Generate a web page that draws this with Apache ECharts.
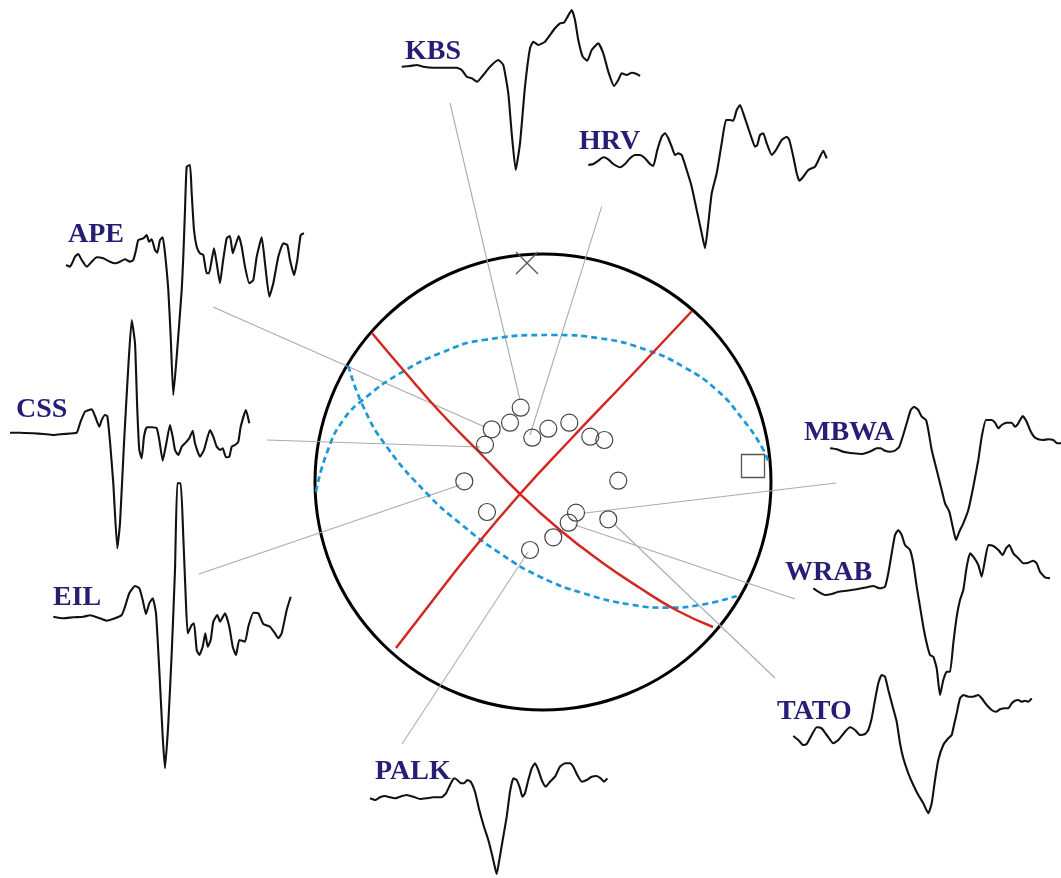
<!DOCTYPE html>
<html>
<head>
<meta charset="utf-8">
<script src="https://cdn.jsdelivr.net/npm/echarts@6/dist/echarts.min.js"></script>
<style>html,body{margin:0;padding:0;background:#fff}#c{width:1061px;height:878px}</style>
</head>
<body>
<div id="c"></div>
<script>
// ---- station labels [name, x, y] ----
const stationLabels = [
  ['KBS', 405, 52], ['HRV', 579, 142], ['APE', 68, 235], ['CSS', 16, 410],
  ['EIL', 53, 598], ['MBWA', 804, 433], ['WRAB', 785, 573], ['TATO', 777, 712], ['PALK', 375, 772]
];

// ---- waveform traces (x, y) ----
const kbsTrace = [[401.7,66.7],[410,66],[416.7,65],[423.3,66.7],[433.3,67.7],[443.3,67.7],[456.7,67.7],[461.7,70],[466.7,76.7],[471.7,78.3],[477.3,81.7],[483.3,75],[490,66.7],[498.3,60],[503.3,65],[508.3,93.3],[511.7,133.3],[515.7,170],[520,143.3],[525,86.7],[530,48.3],[533.3,41.7],[538.3,45],[545,41.7],[550,35],[555,28.3],[560,23.3],[564,22.7],[566.7,18.3],[571.7,10],[575,20],[578.3,40],[582.7,56.7],[587.3,60.7],[591.7,50],[598.3,43.3],[603.3,53.3],[608.3,71.7],[614,86],[618.3,80],[621.7,73.3],[626.7,75],[631.7,72.7],[636.7,74],[640,76]];
const hrvTrace = [[588.3,165],[593.3,164],[598.3,160.7],[603.3,157.3],[608.3,159.3],[613.3,164],[620,167.3],[625,164],[630,158.3],[635,155],[640,155],[645,158.3],[650,164],[653.3,166],[657.3,150],[661.7,136.7],[665,133.3],[668.3,138.3],[671.7,146.7],[675,155],[678.3,153.3],[681.7,155],[686.7,170],[691.7,186.7],[696.7,210],[701.7,233.3],[705,248.3],[708.3,223.3],[711.7,193.3],[716.7,173.3],[721.7,143.3],[726,120],[730,120],[733.3,120.7],[736.7,110],[740,105],[743.3,113.3],[748.3,128.3],[751.7,138.3],[755,146.7],[757.3,145],[760,135],[763.3,133.3],[766.7,143.3],[771.7,155],[776,150],[781.7,140],[786.7,136.7],[789.3,140],[793.3,156.7],[796.7,173.3],[799.3,180.7],[803.3,176.7],[808.3,170],[815,166.7],[820,156.7],[823.3,150.7],[826.7,158.3]];
const apeTrace = [[66,265],[70,266.7],[75,256.7],[78.3,254],[81.7,260],[86.7,266.7],[91.7,261.7],[96.7,257.3],[103.3,258.3],[110,261.7],[115,263.3],[120,261.7],[125,259.3],[130,261.7],[133.3,260],[136,250],[138.3,240],[143.3,238.3],[146.7,235],[149,241.7],[151.7,239.3],[155,250],[157.3,252.7],[160,240],[162.7,237.3],[165,253.3],[168.3,290],[170.7,336.7],[173.3,395],[176.7,356.7],[181.7,290],[183.3,256.7],[185,210],[186.7,166.7],[190,165],[191.7,193.3],[194,230],[196.7,246.7],[200,253.3],[203.3,255],[206.7,273.3],[209,273.3],[211.7,260],[214,248.3],[216.7,263.3],[220,283.3],[222.7,263.3],[226.7,238.3],[230,236],[232.7,253.3],[235,246.7],[238.7,236],[241.7,246.7],[245,266.7],[249.3,283.3],[253.3,280],[256.7,256.7],[261.7,237.3],[265,263.3],[269.3,296.7],[273.3,283.3],[278.3,256.7],[283.3,243.3],[287.3,245],[290,260],[294,275],[297.3,260],[300.7,235],[304,233.3]];
const cssTrace = [[10,432.7],[20,432.7],[33.3,433.3],[43.3,434],[53.3,435],[63.3,434],[76.7,432.7],[80,423.3],[85,411.7],[91.7,409.3],[95,416],[99.3,426.7],[101.7,420],[105,415],[107.3,416],[110,441.7],[113.3,483.3],[117.3,548.3],[120,523.3],[124,443.3],[128.3,366.7],[131.7,320],[135,343.3],[137.3,410],[139.3,450],[141.7,458.3],[144,436.7],[146.7,427.3],[151.7,427.3],[156.7,428.3],[159.3,440],[162.7,460.7],[166,445],[170,425],[172.7,436.7],[175,450],[178.3,455],[181.7,446.7],[185,443.3],[189.3,438.3],[192.7,430.7],[195,443.3],[200,456.7],[204,450],[210,430],[213.3,436.7],[216.7,446.7],[220,450],[222.7,448.3],[226,457.3],[229.3,456.7],[231.7,446.7],[235,445],[238.3,441.7],[240.7,426.7],[246,410],[249.3,423.3]];
const eilTrace = [[53.3,616.7],[63.3,618.3],[73.3,617.3],[83.3,616.7],[90,615.3],[98.3,617.7],[106.7,620.7],[115,618.3],[121.7,615],[125,606.7],[129.3,593.3],[135,586],[139.3,588.3],[142.7,600],[146,614],[149.3,603.3],[152.7,598.3],[156,613.3],[159.3,670],[162.7,736.7],[165,768.3],[168.3,723.3],[171.7,653.3],[175,570],[177.3,483.3],[180.7,483.3],[183.3,536.7],[185.7,596.7],[187.7,633.3],[191.7,625],[194,623.3],[196.7,650],[199.3,655],[202.7,646.7],[205.3,633.3],[207.7,646.7],[210.7,640],[213.3,621.7],[217.3,615],[220,621.7],[225,613.3],[229.3,626.7],[232.7,646.7],[236,655],[239.3,640],[245,641.7],[248.3,626.7],[253.3,612.7],[258.3,613.3],[263.3,624],[270,626.7],[275,633.3],[278.3,638.3],[281.7,633.3],[286.7,610],[290.7,596.7]];
const mbwaTrace = [[830,448.3],[836.7,449.3],[843.3,451.7],[853.3,453.3],[861.7,454],[866.7,452.7],[871.7,450.7],[876.7,448.3],[880.7,448.3],[885,450.7],[890,451.7],[895,450.7],[899.3,446.7],[902.7,436.7],[906.7,423.3],[910.7,410],[914,406.7],[918.3,410],[921.7,416.7],[926,420],[928.3,430],[931.7,450],[936.7,470],[941.7,490],[945,503.3],[949.3,511.7],[952.7,526.7],[956,540],[959.3,531.7],[963.3,523.3],[968.3,510],[973.3,486.7],[978.3,460],[981.7,436.7],[986,420],[991.7,420],[995,422.7],[998.3,428.3],[1001.7,425],[1006.7,422.7],[1011.7,422.7],[1015,426.7],[1018.3,423.3],[1022.7,416],[1026.7,421.7],[1030,430],[1034,436.7],[1038.3,439.3],[1043.3,440],[1048.3,439.3],[1053.3,440],[1057.3,443.3],[1061,443.3]];
const wrabTrace = [[813.3,588.3],[818.3,591.7],[825,595],[831.7,594],[838.3,591.7],[846.7,590.7],[856.7,589.3],[866.7,587.3],[873.3,586],[880,588.3],[885,586.7],[888.3,573.3],[891.7,553.3],[895,535],[898.3,530],[901.7,535],[905,545],[910,550],[913.3,563.3],[916.7,586.7],[920,606.7],[923.3,626.7],[926.7,643.3],[930,655],[933.3,656.7],[936.7,668.3],[940,695],[943.3,680],[946.7,671.7],[950,671.7],[953.3,643.3],[956.7,616.7],[960,600],[963.3,590],[966.7,566.7],[970,553.3],[973.3,556.7],[978.3,565],[981.7,576.7],[985,560],[988.3,545],[993.3,546],[998.3,550],[1002.7,555],[1006,548.3],[1009.3,545],[1013.3,553.3],[1018.3,558.3],[1023.3,563.3],[1028.3,562.7],[1033.3,560.7],[1036.7,563.3],[1040,571.7],[1045,577.3],[1050,578.3]];
const tatoTrace = [[793.3,736],[798.3,740],[803.3,745],[806.7,744],[811.7,735],[816.7,727.3],[821.7,728.3],[826.7,735],[833.3,743.3],[838.3,740],[845,731.7],[850,727.3],[855,730],[860,735],[865,734],[868.3,730],[871.7,718.3],[875,700],[878.3,683.3],[881.7,675],[885,676.7],[888.3,690],[892.7,706.7],[896.7,721.7],[900,743.3],[903.3,758.3],[908.3,773.3],[913.3,785],[918.3,795],[923.3,803.3],[928.3,813.3],[931.7,803.3],[935,780],[938.3,760],[943.3,745],[948.3,738.3],[951.7,735],[954,725],[956.7,713.3],[960,698.3],[963.3,695],[968.3,696.7],[973.3,696.7],[978.3,695],[981.7,698.3],[986.7,705],[991.7,710],[996,711.7],[1000,709.3],[1005,708.3],[1008.3,708.3],[1011.7,703.3],[1015,700.7],[1018.3,700],[1021.7,701.7],[1025,700.7],[1028.3,701.7],[1031.7,698.3]];
const palkTrace = [[370,798.3],[375,800],[380,797.3],[385,796],[390,797.3],[395,798.3],[400,796.7],[406.7,795],[413.3,796.7],[420,799],[426.7,798.3],[433.3,797.3],[441.7,797.3],[446,793.3],[450,785],[454,778.3],[457.3,780],[460.7,783.3],[464,783.3],[467.3,780],[470.7,781.7],[475,791.7],[479.3,810],[484,826.7],[488.3,840],[491.7,853.3],[494,863.3],[496.7,874],[499.3,860],[502.7,840],[506.7,816.7],[510,791.7],[513.3,778.3],[516.7,780],[520,788.3],[522.3,796.7],[525,793.3],[528.3,780],[531.7,768.3],[535,763.3],[538.3,770],[541.7,780],[545.7,786.7],[550,781.7],[555,776.7],[560,766.7],[565,763.3],[570,763.3],[573.3,766.7],[577.3,775],[581.7,781.7],[586.7,780],[591.7,776.7],[596.7,776],[600.7,778.3],[604,781.7],[607.3,778.3]];

// ---- connector lines: [from (station side), to (plot point)] ----
const connectors = [
  [[450,103],[520,400]],   // KBS
  [[601.7,206.7],[530,435]], // HRV
  [[213,307],[485,427]],   // APE
  [[267,440],[480,447]],   // CSS
  [[199,574],[460,485]],   // EIL
  [[836,483],[585,513]],   // MBWA
  [[795,599],[575,525]],   // WRAB
  [[775,678],[615,525]],   // TATO
  [[402,744],[528,552]]    // PALK
];

// ---- first-motion (open circle) points ----
const motionPoints = [[520.7,407.7],[491.7,429.3],[510,422.7],[485,444.7],[532.3,437.7],[548.3,428.7],[569.3,422.7],[590.3,436.7],[604.3,440],[464.3,481.3],[618.3,480.7],[487,512],[576,512.7],[568.7,522.7],[608.3,519.3],[553.3,537.3],[530,550]];
const pAxisPoint = [[753,466]];   // square
const tAxisPoint = [[527,263]];   // cross

// ---- nodal planes (red) and auxiliary curves (blue dashed) ----
const nodalPlane1 = [[371.7,332.7],[405,372],[440,412],[480,453],[520,494],[560,530],[600,561],[640,588],[676,610],[713,627]];
const nodalPlane2 = [[396,648],[430,604],[470,553],[520,494],[570,440],[630,377],[692,311]];
const blueCurve1 = [[316,491.7],[326.7,453.3],[343.3,420],[366.7,396.7],[400,373.3],[440,353.3],[483.3,340],[553.3,335],[600,338.3],[646.7,350],[683.3,366.7],[716.7,390],[743.3,420],[761.7,446.7],[768.3,461.7]];
const blueCurve2 = [[348.3,366],[363.3,406.7],[386.7,446.7],[426.7,493.3],[460,523.3],[500,553.3],[540,576.7],[583.3,593.3],[633.3,605],[666.7,607.7],[700,605],[736.7,596]];

const traces = [kbsTrace, hrvTrace, apeTrace, cssTrace, eilTrace, mbwaTrace, wrabTrace, tatoTrace, palkTrace];

const chart = echarts.init(document.getElementById('c'), null, {renderer: 'canvas'});
const series = [];

series.push({
  type: 'lines', coordinateSystem: 'cartesian2d', z: 1, silent: true,
  lineStyle: {color: '#ababab', width: 1.1, opacity: 1},
  data: connectors.map(c => ({coords: c}))
});

traces.forEach(t => series.push({
  type: 'line', data: t, showSymbol: false, smooth: 0.15, z: 3, silent: true,
  lineStyle: {color: '#111', width: 2.1}
}));

series.push({type: 'line', data: blueCurve1, showSymbol: false, smooth: true, z: 4, silent: true,
  lineStyle: {color: '#1b98d6', width: 2.7, type: [6, 4]}});
series.push({type: 'line', data: blueCurve2, showSymbol: false, smooth: true, z: 4, silent: true,
  lineStyle: {color: '#1b98d6', width: 2.7, type: [6, 4]}});
series.push({type: 'line', data: nodalPlane1, showSymbol: false, smooth: true, z: 5, silent: true,
  lineStyle: {color: '#d2281f', width: 2.5}});
series.push({type: 'line', data: nodalPlane2, showSymbol: false, smooth: true, z: 5, silent: true,
  lineStyle: {color: '#d2281f', width: 2.5}});

series.push({type: 'scatter', data: motionPoints, symbol: 'circle', symbolSize: 17, z: 6, silent: true,
  itemStyle: {color: 'rgba(255,255,255,0)', borderColor: '#444', borderWidth: 1.2, opacity: 1}});
series.push({type: 'scatter', data: pAxisPoint, symbol: 'rect', symbolSize: 23, z: 6, silent: true,
  itemStyle: {color: 'rgba(255,255,255,0)', borderColor: '#555', borderWidth: 1.3, opacity: 1}});
series.push({type: 'scatter', data: tAxisPoint, symbol: 'path://M0,0L10,10M10,0L0,10', symbolSize: 22, z: 6, silent: true,
  itemStyle: {color: 'rgba(255,255,255,0)', borderColor: '#555', borderWidth: 1.3, opacity: 1}});

series.push({
  type: 'scatter', symbolSize: 0, z: 7, silent: true,
  itemStyle: {opacity: 1},
  data: stationLabels.map(s => ({name: s[0], value: [s[1], s[2]]})),
  label: {show: true, position: [0, 0], align: 'left', verticalAlign: 'middle', formatter: '{b}',
    fontFamily: '"Liberation Serif", "Times New Roman", serif', fontWeight: 'bold', fontSize: 28,
    color: '#261e74', opacity: 1, textBorderWidth: 0}
});

chart.setOption({
  backgroundColor: '#fff',
  animation: false,
  grid: {left: 0, right: 0, top: 0, bottom: 0},
  xAxis: {type: 'value', min: 0, max: 1061, show: false},
  yAxis: {type: 'value', min: 0, max: 878, inverse: true, show: false},
  polar: {center: [543, 482], radius: 228},
  angleAxis: {type: 'value', min: 0, max: 360, axisLine: {lineStyle: {color: '#000', width: 3}},
    axisTick: {show: false}, axisLabel: {show: false}, splitLine: {show: false}},
  radiusAxis: {type: 'value', min: 0, max: 1, show: false, axisLine: {show: false}, splitLine: {show: false}},
  series: series
});
</script>
</body>
</html>
